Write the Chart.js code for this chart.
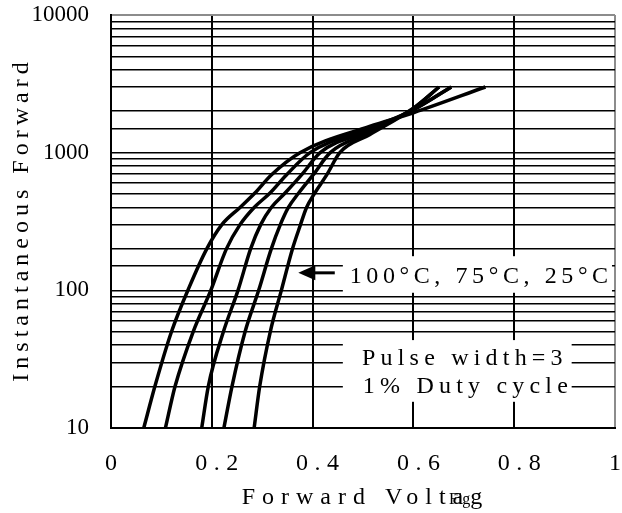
<!DOCTYPE html>
<html lang="en">
<head>
<meta charset="UTF-8">
<title>Forward characteristics</title>
<script src="https://cdn.jsdelivr.net/npm/chart.js"></script>
<style>
    body { margin: 0; background: #fff; }
    #wrap { width: 622px; height: 513px; position: relative; }
</style>
</head>
<body>
<div id="wrap"><canvas id="chart"></canvas></div>
<script>
// forward voltage (V) against instantaneous forward current, one pair per curve
const voltsA = [0.065, 0.087, 0.12, 0.155, 0.19, 0.22, 0.256, 0.285, 0.318, 0.375, 0.513, 0.6, 0.743];
const ampsA  = [10, 20, 50, 105, 200, 300, 400, 507, 689, 1000, 1550, 1950, 3000];
const voltsB = [0.108, 0.127, 0.163, 0.198, 0.229, 0.256, 0.284, 0.315, 0.348, 0.395, 0.513, 0.6, 0.675];
const ampsB  = [10, 20, 50, 100, 200, 300, 400, 507, 689, 1000, 1500, 2050, 3000];
const voltsC = [0.18, 0.193, 0.223, 0.252, 0.277, 0.297, 0.318, 0.345, 0.378, 0.415, 0.513, 0.6, 0.675];
const ampsC  = [10, 20, 50, 100, 200, 300, 400, 507, 689, 1000, 1450, 2050, 3000];
const voltsD = [0.224, 0.24, 0.266, 0.293, 0.318, 0.336, 0.352, 0.372, 0.401, 0.435, 0.513, 0.6, 0.651];
const ampsD  = [10, 20, 50, 100, 200, 300, 400, 507, 689, 1000, 1400, 2100, 3000];
const voltsE = [0.284, 0.295, 0.316, 0.338, 0.36, 0.376, 0.388, 0.404, 0.428, 0.454, 0.513, 0.6, 0.651];
const ampsE  = [10, 20, 50, 100, 200, 300, 400, 507, 689, 1000, 1350, 2100, 3000];

const xTickValues = [0, 0.2, 0.4, 0.6, 0.8, 1];
const xTickLabels = ['0', '0.2', '0.4', '0.6', '0.8', '1'];
const yTickLabels = [10, 100, 1000, 10000];

const xTitle = 'Forward Voltage(V)';
const yTitle = 'Instantaneous Forward';
const tempNote = '100°C, 75°C, 25°C';
const pulseNote = ['Pulse width=3', '1% Duty cycle'];

const serif = "'Liberation Serif', 'Times New Roman', serif";

function toPoints(xs, ys) {
    return xs.map((v, i) => ({ x: v, y: ys[i] }));
}

function curve(xs, ys) {
    return {
        data: toPoints(xs, ys),
        borderColor: '#000',
        borderWidth: 3.5,
        pointRadius: 0,
        fill: false,
        cubicInterpolationMode: 'monotone'
    };
}

function spaced(ctx, text, px, py, size, ls, align) {
    ctx.font = size + 'px ' + serif;
    ctx.letterSpacing = ls + 'px';
    ctx.textAlign = align;
    ctx.textBaseline = 'middle';
    ctx.fillStyle = '#000';
    // canvas adds spacing after the last glyph too, so nudge centred text back
    ctx.fillText(text, align === 'center' ? px + ls / 2 : px, py);
}

const notes = {
    id: 'notes',
    beforeDatasetsDraw(chart) {
        const { ctx, scales: { x, y } } = chart;
        ctx.save();
        ctx.fillStyle = '#fff';
        // white patches the notes sit on
        const patch = (x0, x1, y0, y1) => {
            const l = x.getPixelForValue(x0), r = x.getPixelForValue(x1);
            const t = y.getPixelForValue(y0), b = y.getPixelForValue(y1);
            ctx.fillRect(l, t, r - l, b - t);
        };
        patch(0.46, 0.994, 177, 96);
        patch(0.46, 0.914, 43.5, 15.5);
        ctx.restore();
    },
    afterDraw(chart) {
        const { ctx, scales: { x, y } } = chart;
        ctx.save();

        // arrow pointing at the curves
        const ay = y.getPixelForValue(134);
        const tip = x.getPixelForValue(0.3716);
        const tail = x.getPixelForValue(0.444);
        ctx.strokeStyle = '#000';
        ctx.lineWidth = 3;
        ctx.beginPath();
        ctx.moveTo(tail, ay);
        ctx.lineTo(tip + 12, ay);
        ctx.stroke();
        ctx.fillStyle = '#000';
        ctx.beginPath();
        ctx.moveTo(tip, ay);
        ctx.lineTo(tip + 17, ay - 7.5);
        ctx.lineTo(tip + 17, ay + 7.5);
        ctx.closePath();
        ctx.fill();

        spaced(ctx, tempNote, x.getPixelForValue(0.73), y.getPixelForValue(125), 24, 4.6, 'center');
        spaced(ctx, pulseNote[0], x.getPixelForValue(0.697), y.getPixelForValue(31.9), 24, 5.2, 'center');
        spaced(ctx, pulseNote[1], x.getPixelForValue(0.703), y.getPixelForValue(20), 24, 5.2, 'center');

        // x tick labels
        xTickValues.forEach((v, i) => {
            const lab = xTickLabels[i];
            const shift = lab.length > 1 ? 5 : 0;
            spaced(ctx, lab, x.getPixelForValue(v) + shift, 464, 24, 6.5, 'center');
        });

        // x title, cut off on the right as in the source
        ctx.save();
        ctx.beginPath();
        ctx.rect(0, 478, 487, 35);
        ctx.clip();
        spaced(ctx, xTitle, 241.7, 498, 24, 7, 'left');
        ctx.restore();
        spaced(ctx, 'Fig', 449, 500, 16, 0, 'left');

        // y title
        ctx.save();
        ctx.translate(22, 222);
        ctx.rotate(-Math.PI / 2);
        spaced(ctx, yTitle, 0, 0, 24, 5, 'center');
        ctx.restore();

        ctx.restore();
    }
};

new Chart(document.getElementById('chart'), {
    type: 'line',
    data: {
        datasets: [
            curve(voltsA, ampsA),
            curve(voltsB, ampsB),
            curve(voltsC, ampsC),
            curve(voltsD, ampsD),
            curve(voltsE, ampsE)
        ]
    },
    options: {
        responsive: true,
        maintainAspectRatio: false,
        animation: false,
        events: [],
        layout: { padding: { top: 15, right: 7, left: 0, bottom: 0 } },
        plugins: {
            legend: { display: false },
            tooltip: { enabled: false }
        },
        scales: {
            x: {
                type: 'linear',
                min: 0,
                max: 1,
                ticks: { display: false, stepSize: 0.2 },
                grid: {
                    drawTicks: false,
                    lineWidth: 2,
                    color: c => (c.tick && c.tick.value === 1 ? '#8c8c8c' : '#000')
                },
                border: { color: '#000', width: 2 },
                afterFit(s) { s.height = 85; s.paddingLeft = 0; s.paddingRight = 0; }
            },
            y: {
                type: 'logarithmic',
                min: 10,
                max: 10000,
                ticks: {
                    autoSkip: false,
                    padding: 22,
                    color: '#000',
                    font: { family: serif, size: 23 },
                    callback: v => (yTickLabels.includes(v) ? String(v) : '')
                },
                grid: {
                    drawTicks: false,
                    lineWidth: c => (c.tick && c.tick.value === 10000 ? 2 : 1.5),
                    color: c => (c.tick && c.tick.value === 10000 ? '#8c8c8c' : '#000')
                },
                border: { color: '#000', width: 2 },
                afterFit(s) { s.width = 111; s.paddingTop = 0; s.paddingBottom = 0; }
            }
        }
    },
    plugins: [notes]
});
</script>
</body>
</html>
